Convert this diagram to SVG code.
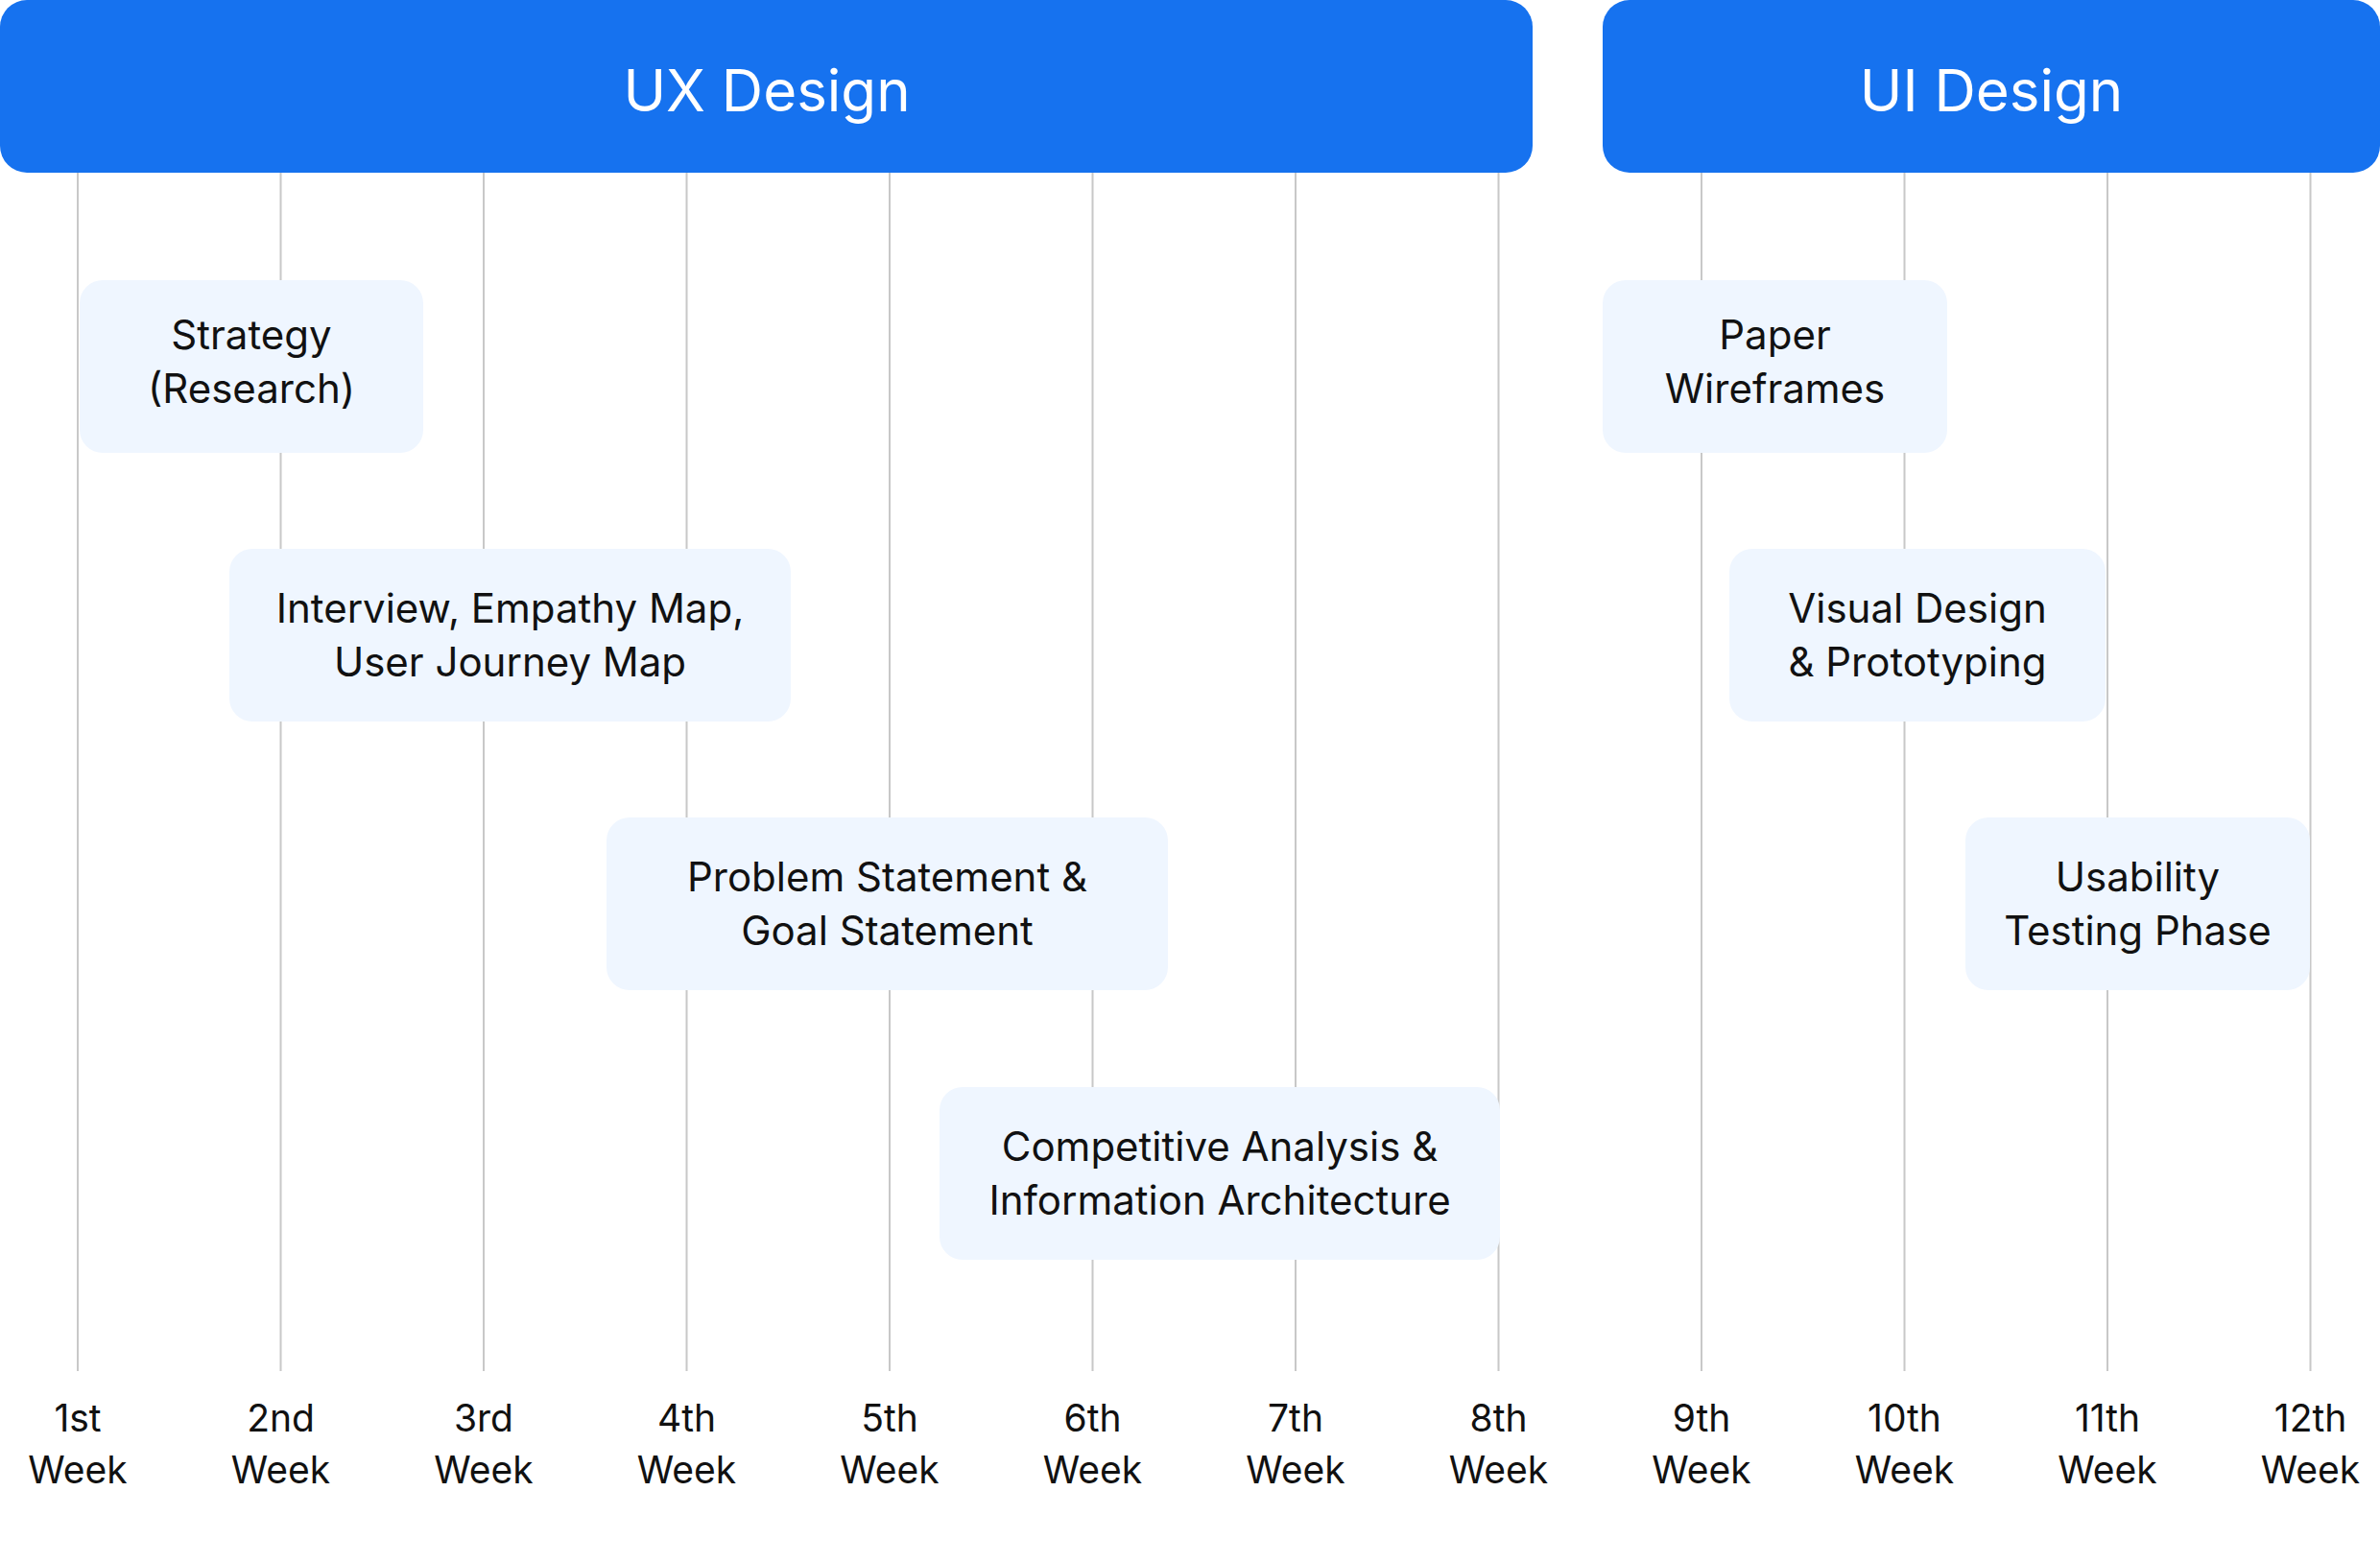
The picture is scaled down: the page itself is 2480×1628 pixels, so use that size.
<svg xmlns="http://www.w3.org/2000/svg" width="2480" height="1628" viewBox="0 0 2480 1628">
<style>
.hdr{fill:#1672EF}
.hdrt{font-family:Inter,"Liberation Sans",sans-serif;font-size:60px;fill:#FFFFFF;text-anchor:middle}
.grid line{stroke:#C8C8C8;stroke-width:2}
.box{fill:#EFF6FF}
.bt{font-family:Inter,"Liberation Sans",sans-serif;font-size:42px;fill:#111111;text-anchor:middle}
.wk{font-family:Inter,"Liberation Sans",sans-serif;font-size:39px;fill:#111111;text-anchor:middle}
</style>
<rect width="2480" height="1628" fill="#FFFFFF"/>
<g id="grid" class="grid">
<line x1="81" y1="170" x2="81" y2="1429"/>
<line x1="292.5" y1="170" x2="292.5" y2="1429"/>
<line x1="504" y1="170" x2="504" y2="1429"/>
<line x1="715.5" y1="170" x2="715.5" y2="1429"/>
<line x1="927" y1="170" x2="927" y2="1429"/>
<line x1="1138.5" y1="170" x2="1138.5" y2="1429"/>
<line x1="1350" y1="170" x2="1350" y2="1429"/>
<line x1="1561.5" y1="170" x2="1561.5" y2="1429"/>
<line x1="1773" y1="170" x2="1773" y2="1429"/>
<line x1="1984.5" y1="170" x2="1984.5" y2="1429"/>
<line x1="2196" y1="170" x2="2196" y2="1429"/>
<line x1="2407.5" y1="170" x2="2407.5" y2="1429"/>
</g>
<g id="ux-header">
<rect class="hdr" x="0" y="0" width="1597" height="180" rx="28"/>
<text class="hdrt" x="799" y="116">UX Design</text>
</g>
<g id="ui-header">
<rect class="hdr" x="1670" y="0" width="810" height="180" rx="28"/>
<text class="hdrt" x="2075" y="116">UI Design</text>
</g>
<g id="strategy">
<rect class="box" x="83" y="292" width="358" height="180" rx="24"/>
<text class="bt" x="262" y="364">Strategy</text>
<text class="bt" x="262" y="420">(Research)</text>
</g>
<g id="interview">
<rect class="box" x="239" y="572" width="585" height="180" rx="24"/>
<text class="bt" x="531.5" y="649">Interview, Empathy Map,</text>
<text class="bt" x="531.5" y="705">User Journey Map</text>
</g>
<g id="problem">
<rect class="box" x="632" y="852" width="585" height="180" rx="24"/>
<text class="bt" x="924.5" y="929">Problem Statement &amp;</text>
<text class="bt" x="924.5" y="985">Goal Statement</text>
</g>
<g id="competitive">
<rect class="box" x="979" y="1133" width="584" height="180" rx="24"/>
<text class="bt" x="1271" y="1210">Competitive Analysis &amp;</text>
<text class="bt" x="1271" y="1266">Information Architecture</text>
</g>
<g id="paper">
<rect class="box" x="1670" y="292" width="359" height="180" rx="24"/>
<text class="bt" x="1849.5" y="364">Paper</text>
<text class="bt" x="1849.5" y="420">Wireframes</text>
</g>
<g id="visual">
<rect class="box" x="1802" y="572" width="392" height="180" rx="24"/>
<text class="bt" x="1998" y="649">Visual Design</text>
<text class="bt" x="1998" y="705">&amp; Prototyping</text>
</g>
<g id="usability">
<rect class="box" x="2048" y="852" width="359" height="180" rx="24"/>
<text class="bt" x="2227.5" y="929">Usability</text>
<text class="bt" x="2227.5" y="985">Testing Phase</text>
</g>
<g id="weeks" class="wk">
<text x="81" y="1492">1st</text><text x="81" y="1546">Week</text>
<text x="292.5" y="1492">2nd</text><text x="292.5" y="1546">Week</text>
<text x="504" y="1492">3rd</text><text x="504" y="1546">Week</text>
<text x="715.5" y="1492">4th</text><text x="715.5" y="1546">Week</text>
<text x="927" y="1492">5th</text><text x="927" y="1546">Week</text>
<text x="1138.5" y="1492">6th</text><text x="1138.5" y="1546">Week</text>
<text x="1350" y="1492">7th</text><text x="1350" y="1546">Week</text>
<text x="1561.5" y="1492">8th</text><text x="1561.5" y="1546">Week</text>
<text x="1773" y="1492">9th</text><text x="1773" y="1546">Week</text>
<text x="1984.5" y="1492">10th</text><text x="1984.5" y="1546">Week</text>
<text x="2196" y="1492">11th</text><text x="2196" y="1546">Week</text>
<text x="2407.5" y="1492">12th</text><text x="2407.5" y="1546">Week</text>
</g>
</svg>
